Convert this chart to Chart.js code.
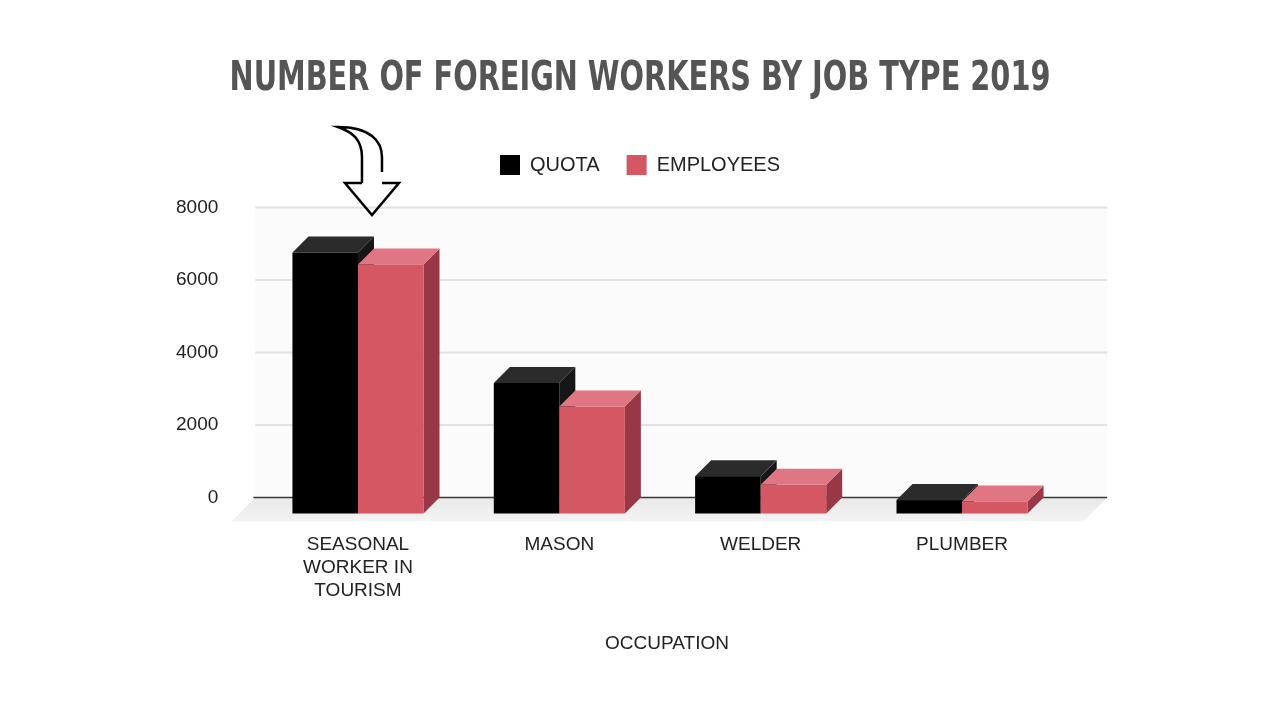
<!DOCTYPE html>
<html>
<head>
<meta charset="utf-8">
<script src="https://cdn.jsdelivr.net/npm/chart.js@4.4.1/dist/chart.umd.min.js"></script>
<style>
  html, body { margin: 0; padding: 0; background: #fff; }
  #wrap { width: 1280px; height: 720px; }
</style>
</head>
<body>
<div id="wrap"><canvas id="chart" width="1280" height="720"></canvas></div>
<script>
'use strict';

// chart data
const categories = [['SEASONAL', 'WORKER IN', 'TOURISM'], 'MASON', 'WELDER', 'PLUMBER'];
const quota = [7200, 3600, 1030, 370];
const employees = [6870, 2950, 790, 330];
const yTicks = [0, 2000, 4000, 6000, 8000];

const DEPTH_X = 16;
const DEPTH_Y = 16;

const faceColors = {
    0: {front: '#000000', top: '#2b2b2b', side: '#161616'},
    1: {front: '#d55763', top: '#e07583', side: '#983846'}
};

// legend needs some room below it, title is a condensed face
const layoutTweaks = {
    id: 'layoutTweaks',
    beforeInit(chart) {
        const fit = chart.legend.fit;
        chart.legend.fit = function() {
            fit.bind(chart.legend)();
            this.height += 22.5;
        };

        // squeeze the title horizontally (no narrow bold font installed)
        const drawTitle = chart.titleBlock.draw;
        chart.titleBlock.draw = function() {
            const c = this.ctx;
            const mid = (this.left + this.right) / 2;
            c.save();
            c.translate(mid, 0);
            c.scale(0.78, 1);
            c.translate(-mid, 0);
            drawTitle.call(this);
            c.restore();
        };
    },
    afterUpdate(chart) {
        // axis title sits a bit left of the plot centre
        const sx = chart.scales.x;
        if (sx._shifted) return;
        const orig = sx.drawTitle;
        sx.drawTitle = function() {
            this.ctx.save();
            this.ctx.translate(-9, 0);
            orig.call(this);
            this.ctx.restore();
        };
        sx._shifted = true;
    }
};

// draw the back wall, floor, grid and the 3d bars ourselves
const bars3d = {
    id: 'bars3d',
    beforeDatasetsDraw(chart) {
        const ctx = chart.ctx;
        const area = chart.chartArea;
        const y = chart.scales.y;
        const left = area.left - 18;
        const right = area.right + 28.5;
        const zero = y.getPixelForValue(0);

        ctx.save();
        // back wall
        ctx.fillStyle = '#fbfbfb';
        ctx.fillRect(left, area.top, right - left, zero - area.top);

        // grid lines
        ctx.strokeStyle = '#e2e2e2';
        ctx.lineWidth = 2;
        for (let i = 0; i < yTicks.length; i++) {
            if (yTicks[i] === 0) continue;
            let py = y.getPixelForValue(yTicks[i]);
            ctx.beginPath();
            ctx.moveTo(left, py);
            ctx.lineTo(right, py);
            ctx.stroke();
        }

        // floor
        let grad = ctx.createLinearGradient(0, zero, 0, zero + 24);
        grad.addColorStop(0, '#e8e8e8');
        grad.addColorStop(1, '#f4f4f4');
        ctx.fillStyle = grad;
        ctx.beginPath();
        ctx.moveTo(left, zero);
        ctx.lineTo(right, zero);
        ctx.lineTo(right - 24, zero + 24);
        ctx.lineTo(left - 24, zero + 24);
        ctx.closePath();
        ctx.fill();

        // zero line
        ctx.strokeStyle = '#3a3a3a';
        ctx.lineWidth = 1.5;
        ctx.beginPath();
        ctx.moveTo(left - 2, zero);
        ctx.lineTo(right, zero);
        ctx.stroke();

        // bars, category by category so the right bar covers the left side face
        for (let i = 0; i < categories.length; i++) {
            for (let d = 0; d < chart.data.datasets.length; d++) {
                let bar = chart.getDatasetMeta(d).data[i];
                let c = faceColors[d];
                let l = bar.x - bar.width / 2 - DEPTH_X;
                let r = bar.x + bar.width / 2 - DEPTH_X;
                let t = bar.y + DEPTH_Y;
                let b = bar.base + DEPTH_Y;

                ctx.fillStyle = c.side;
                ctx.beginPath();
                ctx.moveTo(r, t);
                ctx.lineTo(r + DEPTH_X, t - DEPTH_Y);
                ctx.lineTo(r + DEPTH_X, b - DEPTH_Y);
                ctx.lineTo(r, b);
                ctx.closePath();
                ctx.fill();

                ctx.fillStyle = c.top;
                ctx.beginPath();
                ctx.moveTo(l, t);
                ctx.lineTo(l + DEPTH_X, t - DEPTH_Y);
                ctx.lineTo(r + DEPTH_X, t - DEPTH_Y);
                ctx.lineTo(r, t);
                ctx.closePath();
                ctx.fill();

                ctx.fillStyle = c.front;
                ctx.fillRect(l, t, r - l, b - t);
            }
        }
        ctx.restore();
        return false;
    },
    // hand drawn arrow pointing at the first group
    afterDraw(chart) {
        const ctx = chart.ctx;
        const cx = chart.scales.x.getPixelForValue(0) - DEPTH_X;
        const top = chart.chartArea.top;
        const hy = top - 24.5;

        ctx.save();
        ctx.strokeStyle = '#000';
        ctx.lineWidth = 2.5;
        ctx.lineJoin = 'miter';
        ctx.beginPath();
        ctx.moveTo(cx + 4, hy);
        ctx.lineTo(cx + 4, hy - 26);
        ctx.bezierCurveTo(cx + 4, hy - 44, cx - 6, hy - 51, cx - 20, hy - 56);
        ctx.bezierCurveTo(cx + 12, hy - 56, cx + 24, hy - 42, cx + 24, hy - 26);
        ctx.lineTo(cx + 24, hy - 11);
        ctx.stroke();

        ctx.beginPath();
        ctx.moveTo(cx + 4, hy);
        ctx.lineTo(cx - 13, hy);
        ctx.lineTo(cx + 14, hy + 32);
        ctx.lineTo(cx + 41, hy);
        ctx.lineTo(cx + 24, hy);
        ctx.stroke();
        ctx.restore();
    }
};

let ctx = document.getElementById('chart').getContext('2d');
let chart = new Chart(ctx, {
    type: 'bar',
    data: {
        labels: categories,
        datasets: [{
            label: 'QUOTA',
            data: quota,
            backgroundColor: faceColors[0].front,
            borderWidth: 0
        }, {
            label: 'EMPLOYEES',
            data: employees,
            backgroundColor: faceColors[1].front,
            borderWidth: 0
        }]
    },
    options: {
        responsive: false,
        animation: false,
        devicePixelRatio: 1,
        categoryPercentage: 0.651,
        barPercentage: 1.0,
        layout: {
            padding: {left: 0, right: 0, top: 0, bottom: 64.6}
        },
        plugins: {
            title: {
                display: true,
                text: 'NUMBER OF FOREIGN WORKERS BY JOB TYPE 2019',
                color: '#555555',
                font: {family: '"DejaVu Sans Condensed", "DejaVu Sans"', size: 41, weight: 'bold', lineHeight: 1.2},
                padding: {top: 54.5, bottom: 24.3}
            },
            legend: {
                display: true,
                position: 'top',
                labels: {
                    color: '#222222',
                    font: {family: '"Liberation Sans", Arial', size: 20},
                    boxWidth: 20,
                    boxHeight: 20,
                    padding: 27
                }
            },
            tooltip: {enabled: false}
        },
        scales: {
            x: {
                grid: {display: false, drawTicks: false},
                border: {display: false},
                ticks: {
                    color: '#222222',
                    font: {family: '"Liberation Sans", Arial', size: 19, lineHeight: 1.2},
                    padding: 36,
                    labelOffset: -DEPTH_X,
                    maxRotation: 0,
                    autoSkip: false
                },
                title: {
                    display: true,
                    text: 'OCCUPATION',
                    color: '#222222',
                    font: {family: '"Liberation Sans", Arial', size: 19, lineHeight: 1.2},
                    padding: {top: 0, bottom: 0}
                },
                afterFit(scale) { scale.height = 157.9; }
            },
            y: {
                min: 0,
                max: 8000,
                grid: {display: false, drawTicks: false},
                border: {display: false},
                ticks: {
                    stepSize: 2000,
                    color: '#222222',
                    font: {family: '"Liberation Sans", Arial', size: 19},
                    padding: 55,
                    callback: function(value) { return String(value); }
                },
                afterFit(scale) { scale.width = 273.3; }
            },
            yR: {
                position: 'right',
                display: true,
                grid: {display: false, drawTicks: false},
                border: {display: false},
                ticks: {display: false},
                afterFit(scale) { scale.width = 201.3; }
            }
        }
    },
    plugins: [layoutTweaks, bars3d]
});
</script>
</body>
</html>
